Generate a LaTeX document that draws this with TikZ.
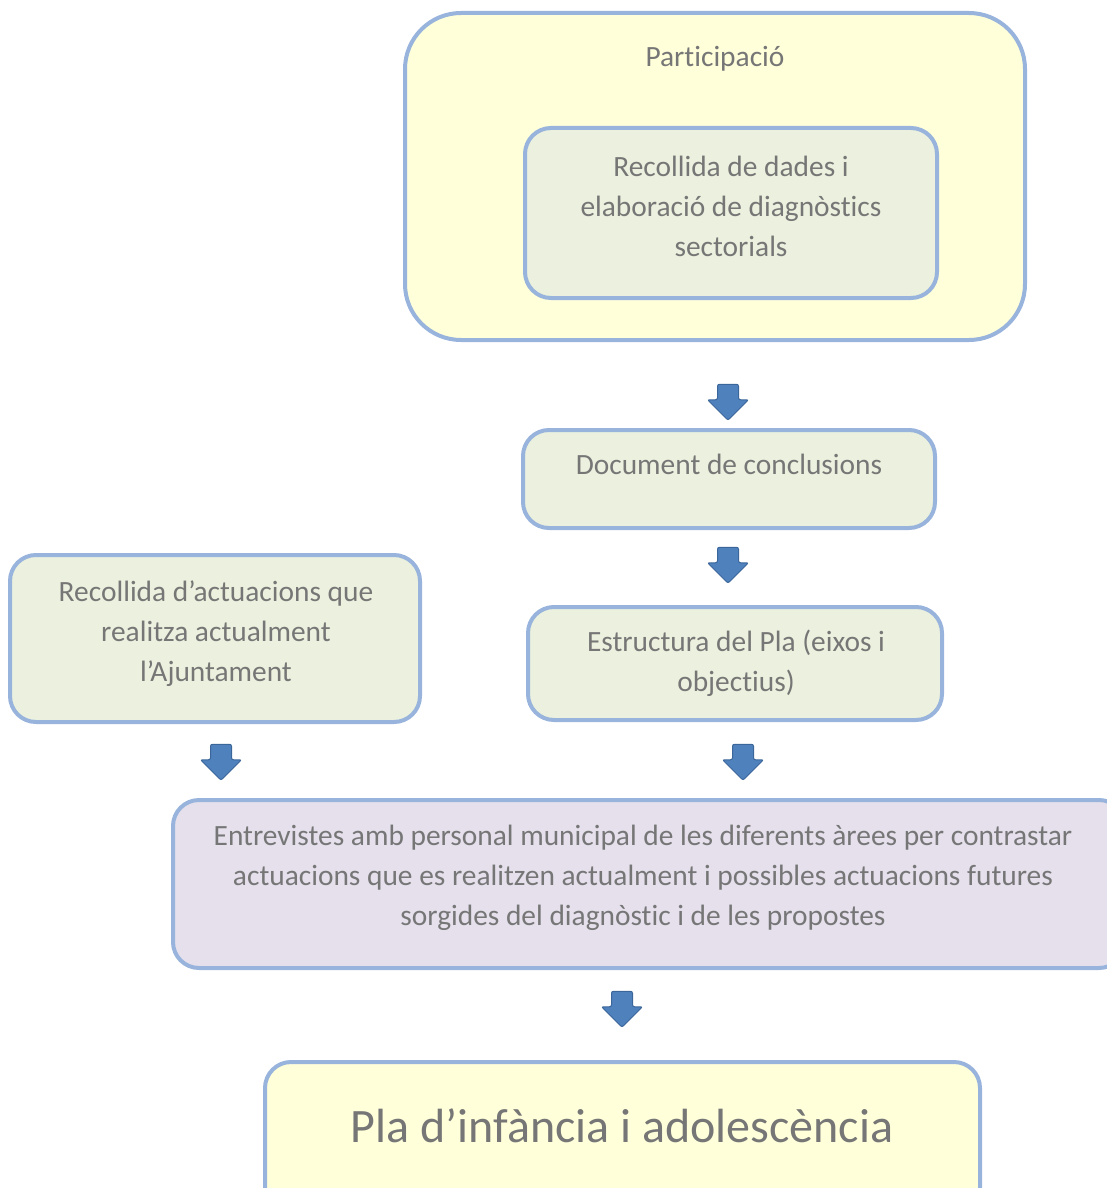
\documentclass[tikz,border=0pt]{standalone}
\usepackage{fontspec}
\setmainfont{Carlito}[Ligatures=NoCommon]
\usetikzlibrary{shapes.arrows}
\definecolor{boxline}{HTML}{98B4DC}
\definecolor{boxyellow}{HTML}{FFFFDA}
\definecolor{boxgreen}{HTML}{EBF1DE}
\definecolor{boxlilac}{HTML}{E5E0EC}
\definecolor{txtgray}{HTML}{767676}
\definecolor{arrowfill}{HTML}{4F81BD}
\definecolor{arrowline}{HTML}{3B669A}
\tikzset{
  box/.style={draw=boxline,line width=2pt,rounded corners=13pt,fill=boxgreen},
  boxtext/.style={text=txtgray,font=\fontsize{14.7}{20}\selectfont,align=center},
  downarrow/.style={single arrow,shape border rotate=270,fill=arrowfill,draw=arrowline,
    line width=0.5pt,inner sep=5pt,minimum height=18pt,single arrow head extend=5pt,
    single arrow head indent=0pt,rounded corners=1pt}
}
\begin{document}
\begin{tikzpicture}[x=0.5pt,y=-0.5pt]
      \useasboundingbox (0,0) rectangle (1107,1188);
      \clip (0,0) rectangle (1107,1188);
      % participacio
      \draw[box,fill=boxyellow,rounded corners=28pt] (405,13) rectangle (1025,340);
      \node[boxtext] (part) at (715,59) {Participació};
      \draw[box] (525,128) rectangle (937,298);
      \node[boxtext] (dades) at (731,206) {Recollida de dades i\\elaboració de diagnòstics\\sectorials};
      \node[downarrow] (arr1) at (728,397) {};
      % conclusions
      \draw[box] (523,430) rectangle (935,528);
      \node[boxtext] (concl) at (729,464) {Document de conclusions};
      \node[downarrow] (arr2) at (728,560) {};
      % actuacions i estructura
      \draw[box] (10,555) rectangle (420,722);
      \node[boxtext] (actua) at (216,634) {Recollida d’actuacions que\\realitza actualment\\l’Ajuntament};
      \draw[box] (528,607) rectangle (942,720);
      \node[boxtext] (estr) at (736,663) {Estructura del Pla (eixos i\\objectius)};
      \node[downarrow] (arr3) at (221,757) {};
      \node[downarrow] (arr4) at (743,757) {};
      % entrevistes
      \draw[box,fill=boxlilac] (173,800) rectangle (1125,968);
      \node[boxtext] (entrev) at (643,878) {Entrevistes amb personal municipal de les diferents àrees per contrastar\\actuacions que es realitzen actualment i possibles actuacions futures\\sorgides del diagnòstic i de les propostes};
      \node[downarrow] (arr5) at (622,1004) {};
      % pla
      \draw[box,fill=boxyellow] (265,1062) rectangle (980,1215);
      \node[text=txtgray,font=\fontsize{24}{28}\selectfont] (pla) at (622,1126) {Pla d’infància i adolescència};
\end{tikzpicture}
\end{document}
